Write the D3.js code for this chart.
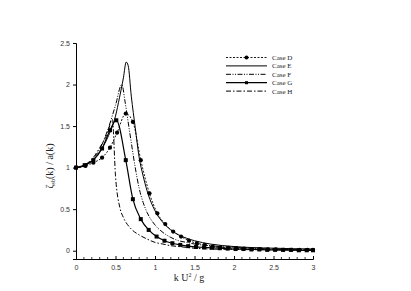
<!DOCTYPE html>
<html lang="en">
<head>
<meta charset="UTF-8">
<title>Response ratio</title>
<script src="https://d3js.org/d3.v7.min.js"></script>
<style>
  body { margin: 0; background: #fff; }
  .tick text { font-family: "Liberation Sans", Arial, sans-serif; font-size: 7px; fill: #333; }
  .lab { font-family: "Liberation Serif", "Times New Roman", serif; fill: #222; }
</style>
</head>
<body>
<div id="chart"></div>
<script>
// data
var kD = [0, 0.12, 0.22, 0.33, 0.43, 0.52, 0.63, 0.72, 0.82, 0.93, 1.03, 1.13, 1.23, 1.33, 1.43, 1.53, 1.63, 1.73, 1.83, 1.93, 2.03, 2.13, 2.23, 2.33, 2.43, 2.53, 2.63, 2.73, 2.83, 2.93, 3.0];
var caseD = [1, 1.02, 1.06, 1.12, 1.24, 1.42, 1.65, 1.55, 1.09, 0.69, 0.45, 0.32, 0.23, 0.17, 0.12, 0.09, 0.07, 0.05, 0.04, 0.035, 0.03, 0.025, 0.02, 0.02, 0.015, 0.015, 0.01, 0.01, 0.01, 0.01, 0.01];

var kE = [0, 0.1, 0.2, 0.3, 0.4, 0.5, 0.55, 0.6, 0.635, 0.66, 0.7, 0.75, 0.8, 0.85, 0.9, 1.0, 1.1, 1.2, 1.3, 1.4, 1.5, 1.7, 2.0, 2.5, 3.0];
var caseE = [1, 1.02, 1.08, 1.19, 1.36, 1.62, 1.84, 2.08, 2.27, 2.23, 1.86, 1.48, 1.12, 0.9, 0.72, 0.48, 0.34, 0.25, 0.19, 0.15, 0.12, 0.08, 0.05, 0.03, 0.02];

var kF = [0, 0.1, 0.2, 0.3, 0.4, 0.5, 0.58, 0.62, 0.66, 0.7, 0.75, 0.8, 0.85, 0.9, 1.0, 1.1, 1.2, 1.3, 1.4, 1.5, 1.7, 2.0, 2.5, 3.0];
var caseF = [1, 1.02, 1.09, 1.22, 1.45, 1.75, 2.0, 1.8, 1.55, 1.3, 1.0, 0.75, 0.58, 0.46, 0.31, 0.22, 0.16, 0.12, 0.1, 0.08, 0.06, 0.04, 0.02, 0.01];

var kG = [0, 0.11, 0.22, 0.33, 0.43, 0.51, 0.63, 0.72, 0.82, 0.92, 1.02, 1.12, 1.22, 1.32, 1.42, 1.52, 1.62, 1.72, 1.82, 1.92, 2.02, 2.12, 2.22, 2.32, 2.42, 2.52, 2.62, 2.72, 2.82, 2.92, 3.0];
var caseG = [1, 1.03, 1.09, 1.23, 1.45, 1.57, 1.09, 0.62, 0.38, 0.25, 0.17, 0.12, 0.09, 0.07, 0.055, 0.045, 0.04, 0.035, 0.03, 0.025, 0.02, 0.02, 0.015, 0.015, 0.01, 0.01, 0.01, 0.01, 0.005, 0.005, 0.005];

var kH = [0, 0.1, 0.2, 0.3, 0.4, 0.46, 0.5, 0.56, 0.6, 0.7, 0.8, 0.9, 1.0, 1.1, 1.2, 1.3, 1.5, 1.7, 2.0, 2.5, 3.0];
var caseH = [1, 1.03, 1.1, 1.24, 1.42, 1.58, 0.9, 0.5, 0.4, 0.26, 0.19, 0.14, 0.1, 0.08, 0.06, 0.05, 0.03, 0.02, 0.015, 0.01, 0.005];

var legendNames = ["Case D", "Case E", "Case F", "Case G", "Case H"];
var xTicks = [0, 0.5, 1, 1.5, 2, 2.5, 3];
var yTicks = [0, 0.5, 1, 1.5, 2, 2.5];

var W = 411, H = 291;
var svg = d3.select("#chart").append("svg")
    .attr("width", W)
    .attr("height", H);

var x = d3.scaleLinear().domain([0, 3]).range([76, 313]);
var y = d3.scaleLinear().domain([-0.1, 2.5]).range([259, 43]);

// axes
var xAxis = d3.axisBottom(x).tickValues(xTicks).tickSize(-3).tickPadding(6)
    .tickFormat(d3.format("~g"));
var gx = svg.append("g").attr("transform", "translate(0,259)").call(xAxis);
gx.select(".domain").attr("stroke", "#000");
gx.selectAll(".tick line").attr("stroke", "#000");

// minor ticks on x
var minor = d3.range(0, 3.001, 0.1).filter(function(v) { return Math.abs(v * 2 - Math.round(v * 2)) > 1e-6; });
svg.append("g").selectAll("line").data(minor).enter().append("line")
    .attr("x1", function(d) { return x(d); }).attr("x2", function(d) { return x(d); })
    .attr("y1", 259).attr("y2", 257)
    .attr("stroke", "#000").attr("stroke-width", 0.8);

var yAxis = d3.axisLeft(y).tickValues(yTicks).tickSize(3).tickPadding(3)
    .tickFormat(d3.format("~g"));
var gy = svg.append("g").attr("transform", "translate(76,0)").call(yAxis);
gy.select(".domain").attr("stroke", "#000");
gy.selectAll(".tick line").attr("stroke", "#000");

// labels
svg.append("text").attr("class", "lab")
    .attr("x", 189).attr("y", 281).attr("text-anchor", "middle")
    .attr("font-size", 10)
    .html('k U<tspan dy="-4" font-size="6">2</tspan><tspan dy="4"> / g</tspan>');

svg.append("text").attr("class", "lab")
    .attr("transform", "translate(53,166) rotate(-90)")
    .attr("text-anchor", "middle").attr("font-size", 10)
    .html('ζ<tspan dy="2" font-size="6">sb</tspan><tspan dy="-2">(k) / a(k)</tspan>');

// series
var series = [
  {k: kD, v: caseD, dash: "2,1.5", w: 0.9, marker: "circle"},
  {k: kE, v: caseE, dash: null, w: 1, marker: null},
  {k: kF, v: caseF, dash: "5,1.5,1,1.5,1,1.5", w: 1, marker: null},
  {k: kG, v: caseG, dash: null, w: 1.2, marker: "square"},
  {k: kH, v: caseH, dash: "5,2,1.5,2", w: 1, marker: null}
];

var line = d3.line().curve(d3.curveMonotoneX)
    .x(function(d) { return x(d[0]); }).y(function(d) { return y(d[1]); });

series.forEach(function(s) {
  var pts = s.k.map(function(k, i) { return [k, s.v[i]]; });
  svg.append("path").datum(pts)
      .attr("d", line)
      .attr("fill", "none")
      .attr("stroke", "#000")
      .attr("stroke-width", s.w)
      .attr("stroke-dasharray", s.dash);
  if (s.marker == "circle") {
    svg.append("g").selectAll("circle").data(pts).enter().append("circle")
        .attr("cx", function(d) { return x(d[0]); })
        .attr("cy", function(d) { return y(d[1]); })
        .attr("r", 2.1).attr("fill", "#000");
  } else if (s.marker == "square") {
    svg.append("g").selectAll("rect").data(pts).enter().append("rect")
        .attr("x", function(d) { return x(d[0]) - 2; })
        .attr("y", function(d) { return y(d[1]) - 2; })
        .attr("width", 4).attr("height", 4).attr("fill", "#000");
  }
});

// legend
var leg = svg.append("g");
series.forEach(function(s, i) {
  var yy = 57.5 + i * 8.4;
  leg.append("line").attr("x1", 226).attr("x2", 267).attr("y1", yy).attr("y2", yy)
      .attr("stroke", "#000").attr("stroke-width", s.w)
      .attr("stroke-dasharray", s.dash);
  if (s.marker == "circle") {
    leg.append("circle").attr("cx", 246.5).attr("cy", yy).attr("r", 2).attr("fill", "#000");
  } else if (s.marker == "square") {
    leg.append("rect").attr("x", 245).attr("y", yy - 1.5).attr("width", 3).attr("height", 3).attr("fill", "#000");
  }
  leg.append("text").attr("class", "lab").attr("x", 272).attr("y", yy + 2.5)
      .attr("font-size", 7).text(legendNames[i]);
});
</script>
</body>
</html>
